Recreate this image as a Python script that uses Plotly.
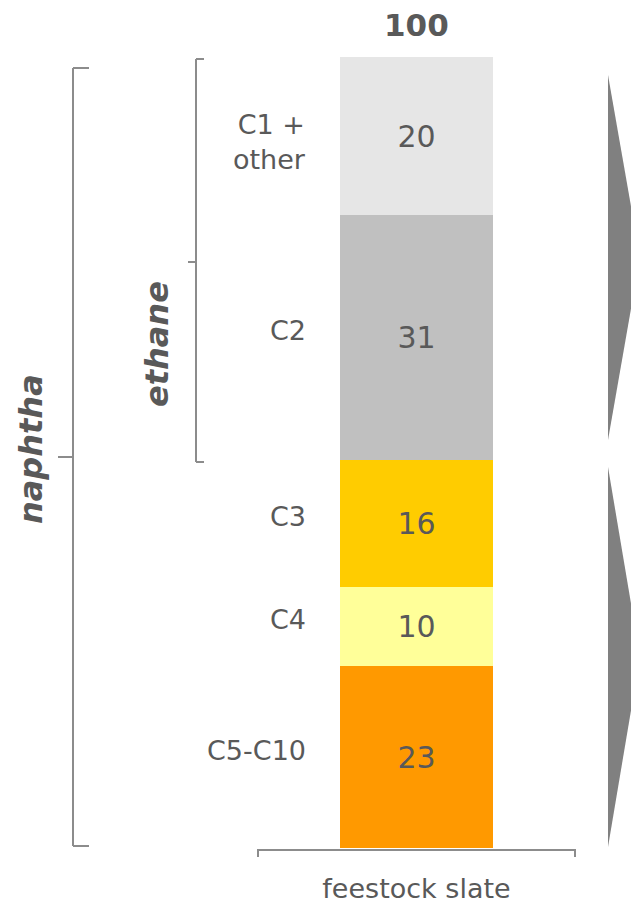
import plotly.graph_objects as go

# ---- data ----
category = "feestock slate"
segments = ["C5-C10", "C4", "C3", "C2", "C1 +<br>other"]
values = [23, 10, 16, 31, 20]
colors = ["#ff9900", "#ffff99", "#ffcc00", "#c0c0c0", "#e6e6e6"]
total_label = "100"
groups = ["naphtha", "ethane"]

FONT = "DejaVu Sans"
TXT = "#595959"
LINE = "#8c8c8c"

W, H = 631, 904
ML, MR, MT, MB = 258, 56, 57, 56
PW = W - ML - MR
PH = H - MT - MB


def px_x(x):
    return (x - ML) / PW


def px_y(y):
    return (H - MB - y) / PH


fig = go.Figure()
for seg, v, c in zip(segments, values, colors):
    fig.add_trace(go.Bar(
        x=[category], y=[v], name=seg.replace("<br>", " "),
        marker=dict(color=c, line=dict(width=0)),
        width=0.48,
        text=[str(v)], textposition="inside", insidetextanchor="middle",
        constraintext="none",
        textfont=dict(family=FONT, size=30, color=TXT),
        hoverinfo="skip",
    ))

annotations = []
# segment labels left of bar
cum = 0
for seg, v in zip(segments, values):
    mid = cum + v / 2
    cum += v
    multi = "<br>" in seg
    annotations.append(dict(
        x=px_x(308), xref="paper", y=mid, yref="y",
        text=seg, showarrow=False, xanchor="right", yanchor="middle",
        yshift=-6 if multi else 7, align="right",
        font=dict(family=FONT, size=27, color=TXT),
    ))
# total on top
annotations.append(dict(
    x=category, xref="x", y=sum(values), yref="y",
    text="<b>" + total_label + "</b>", showarrow=False,
    xanchor="center", yanchor="bottom", yshift=12,
    font=dict(family=FONT, size=31, color=TXT),
))
# group labels (rotated)
annotations.append(dict(
    x=px_x(31), xref="paper", y=px_y(449), yref="paper",
    text="<b><i>" + groups[0] + "</i></b>", showarrow=False, textangle=-90,
    xanchor="center", yanchor="middle",
    font=dict(family=FONT, size=32, color=TXT),
))
annotations.append(dict(
    x=px_x(157), xref="paper", y=px_y(344), yref="paper",
    text="<b><i>" + groups[1] + "</i></b>", showarrow=False, textangle=-90,
    xanchor="center", yanchor="middle",
    font=dict(family=FONT, size=32, color=TXT),
))

shapes = []


def pline(x0, y0, x1, y1):
    shapes.append(dict(type="line", xref="paper", yref="paper",
                       x0=px_x(x0), y0=px_y(y0), x1=px_x(x1), y1=px_y(y1),
                       line=dict(color=LINE, width=2)))


# naphtha bracket
pline(73, 68, 73, 846)
pline(73, 68, 89, 68)
pline(73, 846, 89, 846)
pline(58, 457, 73, 457)
# ethane bracket
pline(196, 59, 196, 462)
pline(196, 59, 204, 59)
pline(196, 462, 204, 462)
pline(188, 262, 196, 262)
# x axis line with end ticks
pline(258, 850, 575, 850)
pline(258, 849, 258, 857)
pline(575, 849, 575, 857)


def arrow(y0, y1, xl=608, xt=640):
    ym = (y0 + y1) / 2
    path = "M {} {} L {} {} L {} {} Z".format(
        px_x(xl), px_y(y0), px_x(xt), px_y(ym), px_x(xl), px_y(y1))
    shapes.append(dict(type="path", xref="paper", yref="paper", path=path,
                       fillcolor="#808080", line=dict(width=0)))


arrow(75, 440)
arrow(467, 847)

fig.update_layout(
    width=W, height=H,
    margin=dict(l=ML, r=MR, t=MT, b=MB, pad=0, autoexpand=False),
    barmode="stack",
    showlegend=False,
    plot_bgcolor="white", paper_bgcolor="white",
    font=dict(family=FONT, color=TXT),
    xaxis=dict(range=[-0.5, 0.5], showgrid=False, zeroline=False,
               showline=False, ticks="", ticklabelstandoff=22,
               automargin=False,
               tickfont=dict(family=FONT, size=27, color=TXT)),
    yaxis=dict(range=[0, 100], showgrid=False, zeroline=False,
               showline=False, showticklabels=False, ticks="",
               automargin=False),
    annotations=annotations,
    shapes=shapes,
)

fig.write_html("out.html")
